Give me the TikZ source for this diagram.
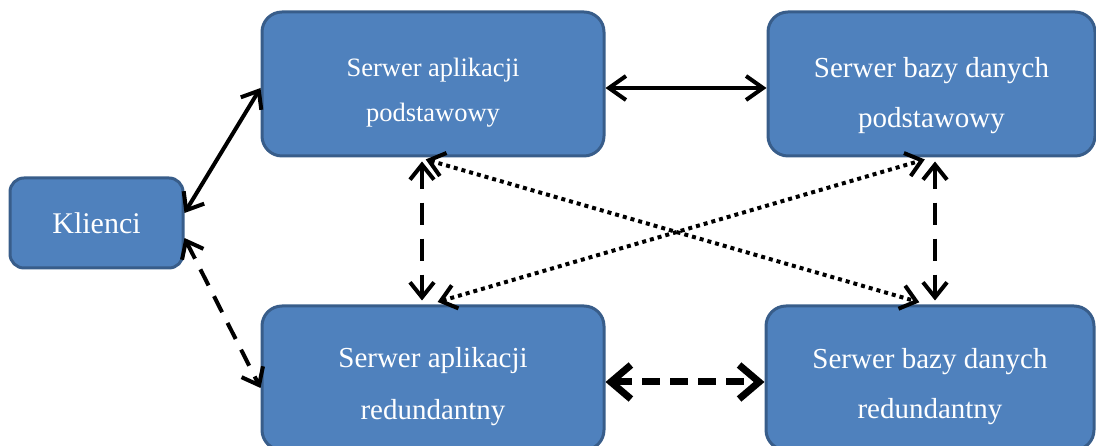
\documentclass[tikz,border=0pt]{standalone}
\usepackage{fontspec}
\setmainfont{Liberation Serif}
\usetikzlibrary{arrows.meta, positioning}
\definecolor{boxfill}{HTML}{4F81BD}
\definecolor{boxline}{HTML}{385D8A}
\tikzstyle{server} = [rectangle, rounded corners=20pt, minimum width=342pt, minimum height=144pt, align=center, draw=boxline, line width=3pt, fill=boxfill, text=white, font=\fontsize{29}{35}\selectfont]
\tikzstyle{client} = [server, rounded corners=14pt, minimum width=173pt, minimum height=90pt, font=\fontsize{30}{36}\selectfont]
\tikzstyle{link} = [{Straight Barb[length=15pt, width=24pt]}-{Straight Barb[length=15pt, width=24pt]}, line width=4pt, line cap=round, line join=round, black]
\tikzstyle{dashlink} = [link, line cap=butt, dash pattern=on 22pt off 14pt]
\tikzstyle{dotlink} = [link, line cap=butt, dash pattern=on 4pt off 4pt]

\begin{document}
\begin{tikzpicture}[x=1pt, y=1pt, node distance=294pt]
\useasboundingbox (0,0) rectangle (1096,446);
\node (klienci) [client] at (96.5,223) {Klienci};
\node (appP) [server, right of=klienci, xshift=42.5pt, yshift=139pt, font=\fontsize{26.5}{32}\selectfont] {\rule{0pt}{35pt}Serwer aplikacji\\[13pt]podstawowy};
\node (appR) [server, below of=appP] {\rule{0pt}{37pt}Serwer aplikacji\\[17pt]redundantny};
\node (dbP) [server, right of=appP, xshift=204.5pt, minimum width=327pt] {\rule{0pt}{44pt}Serwer bazy danych\\[15pt]podstawowy};
\node (dbR) [server, below of=dbP, xshift=-1.5pt, minimum width=328pt] {\rule{0pt}{38pt}Serwer bazy danych\\[15pt]redundantny};
% clients to application servers
\draw [link] ([yshift=10pt]klienci.east) -- ([yshift=-4pt]appP.west);
\draw [link, line cap=butt, dash pattern=on 18pt off 12pt] ([yshift=-15pt]klienci.east) -- ([yshift=-10pt]appR.west);
% application servers to databases
\draw [link, {Straight Barb[length=17pt, width=24pt]}-{Straight Barb[length=17pt, width=24pt]}] ([yshift=-4pt]appP.east) -- ([yshift=-4pt]dbP.west);
\draw [link, {Straight Barb[length=20pt, width=34pt]}-{Straight Barb[length=20pt, width=34pt]}, line width=7pt, line cap=butt, dash pattern=on 18pt off 10pt] ([yshift=-4pt]appR.east) -- ([yshift=-4pt]dbR.west);
% primary to redundant
\draw [dashlink, shorten <=4pt, shorten >=4pt] ([xshift=-11pt]appP.south) -- ([xshift=-11pt]appR.north);
\draw [dashlink, shorten <=4pt, shorten >=4pt] ([xshift=3.5pt]dbP.south) -- ([xshift=5pt]dbR.north);
% cross links
\draw [dotlink, shorten <=7pt, shorten >=8pt] ([xshift=-14pt]appP.south) -- ([xshift=-3pt]dbR.north);
\draw [dotlink, shorten <=9pt, shorten >=7pt] ([xshift=-4pt]appR.north) -- ([xshift=0pt]dbP.south);
\end{tikzpicture}
\end{document}
